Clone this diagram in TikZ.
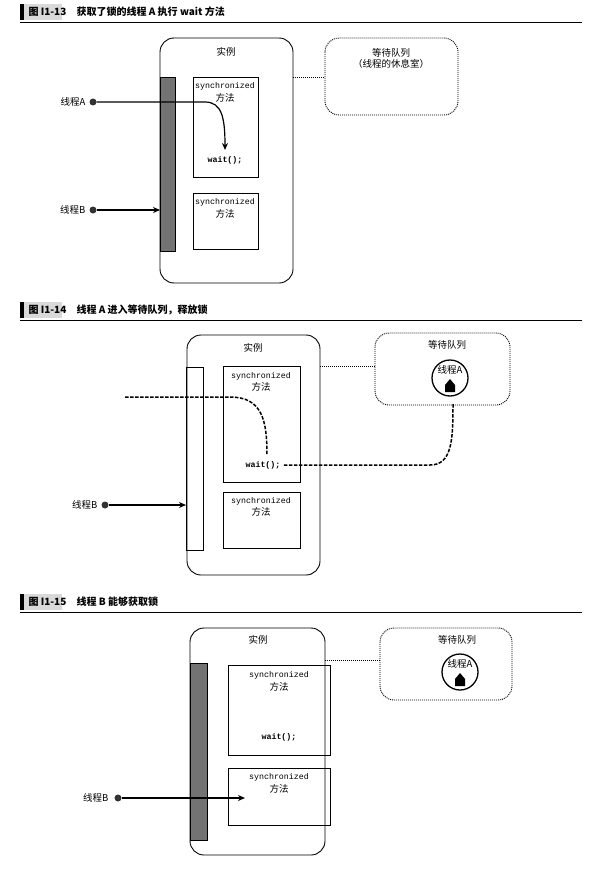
\documentclass[tikz,border=0pt]{standalone}
\usepackage{fontspec}
\setmainfont{Noto Sans CJK SC}
\newfontfamily\mono{Liberation Mono}
\usetikzlibrary{arrows.meta}
\begin{document}
\begin{tikzpicture}[x=1pt,y=-1pt,
 box/.style={draw,line width=0.9pt,rounded corners=14pt},
 queue/.style={draw,dash pattern=on 1pt off 1pt,line width=0.9pt,rounded corners=14pt},
 sbox/.style={draw,line width=0.8pt},
 lbl/.style={font=\fontsize{9.5}{11}\selectfont},
 mt/.style={font=\mono\fontsize{8.3}{9}\selectfont},
 mtb/.style={font=\mono\bfseries\fontsize{8.3}{9}\selectfont},
 dot/.style={circle,fill=black!80,inner sep=0pt,minimum size=7pt},
 arr/.style={line width=1.2pt,-{Stealth[length=7pt,width=6pt]}},
 dsh/.style={line width=1.5pt,dash pattern=on 3.5pt off 1.5pt},
 ttl/.style={font=\bfseries\fontsize{10}{11}\selectfont,anchor=west},
 lock/.style={draw,fill=black!55,line width=0.8pt}]
\useasboundingbox (0,0) rectangle (603,872);
% ---------- titles
\foreach \y/\n/\t in {12/图 I1-13/获取了锁的线程 A 执行 wait 方法, 310/图 I1-14/线程 A 进入等待队列，释放锁, 602/图 I1-15/线程 B 能够获取锁}{
 \fill (20,\y-8) rectangle (24,\y+8);
 \fill[black!15] (24,\y-8) rectangle (62,\y+8);
 \node[ttl] at (25,\y) {\n};
 \node[ttl] at (73,\y) {\t};
 \draw[line width=0.8pt] (20,\y+10) -- (582,\y+10);
}
% ---------- panel 1
\draw[box] (160,38) rectangle (293,283);
\node[lbl] (i1) at (226,52) {实例};
\draw[queue] (325,38) rectangle (458,115);
\node[lbl,align=center] (q1) at (391,58) {等待队列\\（线程的休息室）};
\draw[dash pattern=on 1pt off 1pt,line width=0.8pt] (293,77) -- (325,77);
\draw[lock] (160,77) rectangle (175,251);
\draw[sbox] (193,77) rectangle (258,177);
\node[mt] at (225,86) {synchronized};
\node[lbl] at (225,98) {方法};
\node[mtb] (w1) at (225,160) {wait();};
\draw[sbox] (193,193) rectangle (258,249);
\node[mt] at (225,202) {synchronized};
\node[lbl] at (225,214) {方法};
\node[lbl,anchor=east] (la) at (89,102) {线程A};
\node[dot] (da) at (93,102) {};
\draw[arr] (da) -- (205,102) .. controls (222,102) and (225,118) .. (225,150);
\node[lbl,anchor=east] (lb) at (89,210) {线程B};
\node[dot] (db) at (93,210) {};
\coordinate (e1) at (160,210);
\draw[arr] (db) -- (e1);
% ---------- panel 2
\draw[box] (187,335) rectangle (320,575);
\node[lbl] at (253,348) {实例};
\draw[queue] (375,333) rectangle (510,405);
\node[lbl] at (447,345) {等待队列};
\draw[dash pattern=on 1pt off 1pt,line width=0.8pt] (320,366) -- (375,366);
\draw[sbox] (186,367) rectangle (203,550);
\draw[sbox] (223,366) rectangle (300,482);
\node[mt] at (261,376) {synchronized};
\node[lbl] at (261,387) {方法};
\node[mtb] (w2) at (263,465) {wait();};
\draw[sbox] (223,492) rectangle (300,548);
\node[mt] at (261,501) {synchronized};
\node[lbl] at (261,512) {方法};
\node[circle,draw,line width=1.3pt,minimum size=36pt,inner sep=0pt] (c2) at (450,378) {};
\node[lbl] at (450,370) {线程A};
\fill (445,392) -- (445,385) -- (450,379) -- (455,385) -- (455,392) -- cycle;
\coordinate (s2) at (125,397);
\draw[dsh] (s2) -- (230,397) .. controls (262,397) and (267,420) .. (267,455);
\draw[dsh] (w2.east) -- (430,465) .. controls (452,465) and (453,440) .. (453,404);
\node[lbl,anchor=east] at (101,505) {线程B};
\node[dot] (db2) at (105,505) {};
\coordinate (e2) at (186,505);
\draw[arr] (db2) -- (e2);
% ---------- panel 3
\draw[box] (190,628) rectangle (325,855);
\node[lbl] at (258,640) {实例};
\draw[queue] (380,628) rectangle (512,700);
\node[lbl] at (457,640) {等待队列};
\draw[dash pattern=on 1pt off 1pt,line width=0.8pt] (325,660) -- (380,660);
\node[circle,draw,line width=1.3pt,minimum size=36pt,inner sep=0pt] (c3) at (460,672) {};
\node[lbl] at (460,664) {线程A};
\fill (455,686) -- (455,679) -- (460,673) -- (465,679) -- (465,686) -- cycle;
\draw[lock] (190,663) rectangle (207,840);
\draw[sbox] (228,665) rectangle (330,755);
\node[mt] at (279,675) {synchronized};
\node[lbl] at (279,687) {方法};
\node[mtb] at (279,737) {wait();};
\draw[sbox] (228,768) rectangle (330,825);
\node[mt] at (279,777) {synchronized};
\node[lbl] at (279,789) {方法};
\node[lbl,anchor=east] at (112,798) {线程B};
\node[dot] (db3) at (118,798) {};
\coordinate (e3) at (245,798);
\draw[arr] (db3) -- (e3);
\end{tikzpicture}
\end{document}
